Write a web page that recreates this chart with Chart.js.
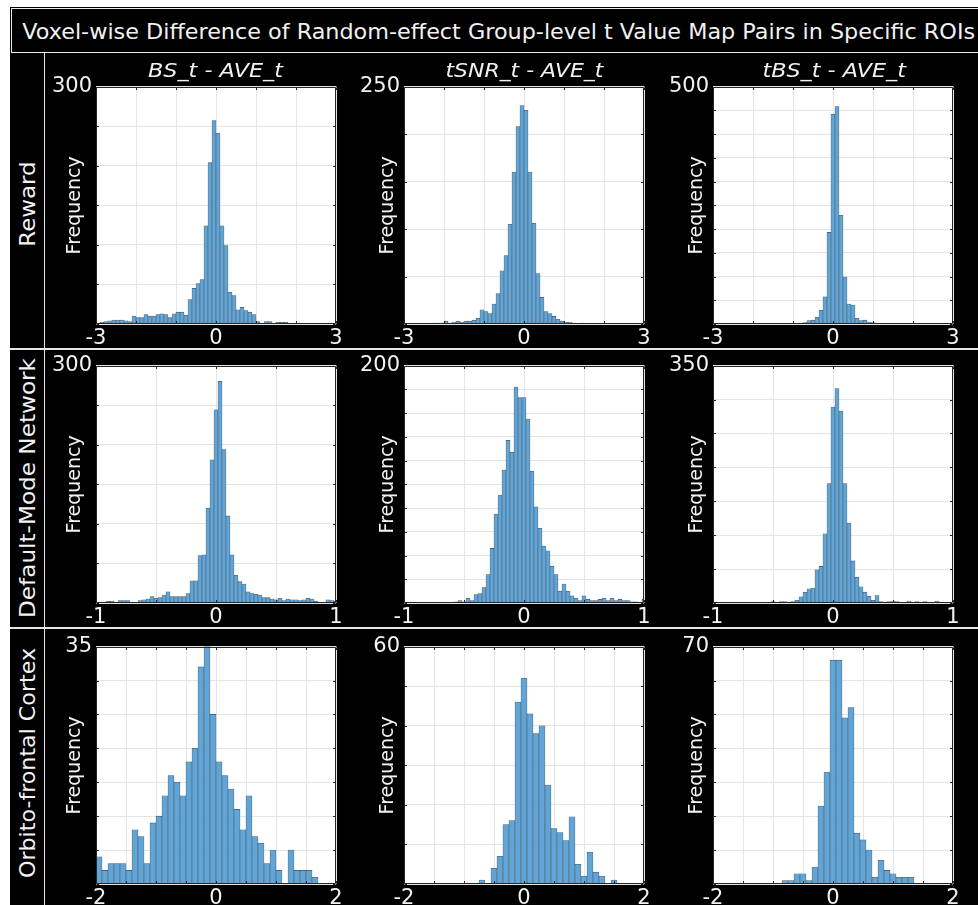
<!DOCTYPE html>
<html lang="en">
<head>
<meta charset="UTF-8">
<title>Voxel-wise Difference of Random-effect Group-level t Value Map Pairs in Specific ROIs</title>
<script src="https://cdn.jsdelivr.net/npm/chart.js"></script>
<style>
  body { margin: 0; width: 978px; height: 905px; overflow: hidden; background: #fff; position: relative; }
  #fig { position: absolute; left: 10px; top: 7px; width: 968px; height: 898px; background: #000; }
  .line { position: absolute; background: #e6e6e6; z-index: 5; }
  #titleBox { position: absolute; left: 11px; top: 8px; width: 990px; height: 45px; border: 1px solid #ececec; box-sizing: border-box; z-index: 5; }
  .txt { position: absolute; white-space: nowrap; color: #f2f2f2; z-index: 6; transform-origin: 50% 50%; }
  canvas { position: absolute; z-index: 2; }
</style>
</head>
<body>
<div id="fig"></div>
<div id="titleBox"></div>
<div class="line" style="left:44px; top:52px; width:1px; height:853px;"></div>
<div class="line" style="left:10px; top:348px; width:968px; height:2px;"></div>
<div class="line" style="left:10px; top:627px; width:968px; height:2px;"></div>

<script>
// ---- labels ----
const figTitle = 'Voxel-wise Difference of Random-effect Group-level t Value Map Pairs in Specific ROIs';
const rowNames = ['Reward', 'Default-Mode Network', 'Orbito-frontal Cortex'];
const colNames = ['BS_t - AVE_t', 'tSNR_t - AVE_t', 'tBS_t - AVE_t'];

// ---- axes (per row / per panel) ----
const xLimit = [3, 1, 2];            // symmetric x range per row
const xStep = [1, 0.5, 0.5];         // grid spacing per row
const binWidth = [0.1, 1 / 30, 0.1]; // histogram bin width per row
const yMax = [[300, 250, 500], [300, 200, 350], [35, 60, 70]];
const yStep = [[50, 50, 50], [50, 20, 50], [5, 10, 10]];
// left edge of the first bin in each panel
const binStart = [[-3, -3, -3.05], [-1 - 1 / 60, -1 - 1 / 60, -1 - 1 / 60], [-2, -2.05, -2.05]];

// ---- counts ----
const rewardBS = [1,2,3,4,5,5,5,4,3,10,8,8,12,10,10,12,13,12,8,13,15,15,11,31,45,51,56,124,204,257,
  241,124,99,40,36,18,21,17,15,12,3,1,3,3,1,2,2,2,1,0,0,0,0,0,0,1,0,0,0,0];
const rewardTSNR = [0,0,0,0,0,0,0,1,1,1,3,1,2,3,2,3,3,4,6,15,13,11,21,32,56,72,105,160,208,230,
  225,160,106,53,28,13,11,8,5,3,2,2,1,0,1,0,0,0,0,0,0,0,0,0,0,0,0,0,0,0];
const rewardTBS = [0,0,0,0,0,0,0,0,0,0,0,0,0,0,0,0,0,0,0,1,0,1,2,3,7,8,14,29,57,193,
  442,458,229,99,42,40,12,7,8,4,3,1,1,1,1,1,0,0,0,0,0,0,0,0,0,0,0,0,0,0,0];
const dmnBS = [1,1,1,2,2,1,3,3,3,0,1,3,4,5,8,6,7,10,14,8,8,8,8,12,28,28,60,61,120,181,
  244,280,194,110,61,35,27,24,14,12,11,10,7,7,5,4,6,3,5,4,4,3,4,6,5,2,1,1,4,3,2];
const dmnTSNR = [0,0,0,0,0,0,0,0,0,0,0,0,0,1,2,1,4,2,7,8,13,24,46,75,91,112,137,127,182,173,
  173,155,111,81,63,48,44,31,24,10,16,10,6,4,2,6,3,2,2,3,4,2,4,2,3,2,2,1,1,0,3];
const dmnTBS = [0,0,0,0,0,0,0,0,0,0,0,0,0,0,1,2,1,2,2,0,2,4,9,16,21,22,49,54,102,176,
  289,316,283,176,118,62,38,24,16,10,4,11,2,0,2,2,2,1,1,3,0,2,0,2,0,0,3,0,0,0,0];
const ofcBS = [4,2,3,3,3,2,8,7,3,9,10,13,16,15,13,18,20,32,35,25,
  18,16,14,11,8,13,7,6,3,5,2,0,5,2,2,2,1,0,0,0];
const ofcTSNR = [0,0,0,0,0,0,0,0,0,0,0,0,0,1,0,4,7,15,16,46,
  52,43,38,40,25,14,13,11,17,5,2,8,3,2,0,1,0,0,0,0,0];
const ofcTBS = [0,0,0,0,0,0,0,0,0,0,0,0,1,1,3,3,1,5,23,33,
  66,66,49,52,15,13,10,2,7,4,3,2,2,2,0,0,0,0,0,0,0];

const panelCounts = [
  [rewardBS, rewardTSNR, rewardTBS],
  [dmnBS, dmnTSNR, dmnTBS],
  [ofcBS, ofcTSNR, ofcTBS]
];

// ---- layout ----
const plotLeft = [96, 404, 713];
const plotTop = [84, 363, 644];
const PW = 240, PH = 240;
const AX_W = 50, PAD_T = 14, PAD_R = 14, AX_H = 22;

const textColor = '#f2f2f2';
const fontFamily = "'DejaVu Sans', sans-serif";
const barFill = 'rgb(96,165,214)';
const barEdge = 'rgba(20,30,45,0.75)';
const gridColor = '#e4e4e4';

// white axes face, then a box with inward ticks on top of the bars
const boxPlugin = {
  id: 'box',
  beforeDraw(chart) {
    const { ctx, chartArea: a } = chart;
    ctx.save();
    ctx.fillStyle = '#ffffff';
    ctx.fillRect(a.left, a.top, a.right - a.left, a.bottom - a.top);
    ctx.restore();
  },
  afterDatasetsDraw(chart) {
    const { ctx, chartArea: a, scales } = chart;
    const L = Math.round(a.left) + 0.5, R = Math.round(a.right) - 0.5;
    const T = Math.round(a.top) + 0.5, B = Math.round(a.bottom) - 0.5;
    const tl = 2.5;
    ctx.save();
    ctx.strokeStyle = '#262626';
    ctx.lineWidth = 1;
    ctx.beginPath();
    ctx.rect(L, T, R - L, B - T);
    scales.x.ticks.forEach(t => {
      const px = Math.round(scales.x.getPixelForValue(t.value)) + 0.5;
      ctx.moveTo(px, B); ctx.lineTo(px, B - tl);
      ctx.moveTo(px, T); ctx.lineTo(px, T + tl);
    });
    scales.y.ticks.forEach(t => {
      const py = Math.round(scales.y.getPixelForValue(t.value)) + 0.5;
      ctx.moveTo(L, py); ctx.lineTo(L + tl, py);
      ctx.moveTo(R, py); ctx.lineTo(R - tl, py);
    });
    ctx.stroke();
    ctx.restore();
  }
};

function near(a, b) { return Math.abs(a - b) < 1e-6; }

function drawPanel(r, c) {
  const counts = panelCounts[r][c];
  const w = binWidth[r];
  const start = binStart[r][c];
  const points = counts.map((v, i) => ({ x: start + (i + 0.5) * w, y: v }));
  const lim = xLimit[r];
  const top = yMax[r][c];

  const canvas = document.createElement('canvas');
  canvas.width = AX_W + PW + PAD_R;
  canvas.height = PAD_T + PH + AX_H;
  canvas.style.left = (plotLeft[c] - AX_W) + 'px';
  canvas.style.top = (plotTop[r] - PAD_T) + 'px';
  document.body.appendChild(canvas);

  new Chart(canvas, {
    type: 'bar',
    data: {
      datasets: [{
        data: points,
        backgroundColor: barFill,
        borderColor: barEdge,
        borderWidth: 0.6,
        borderSkipped: false,
        barPercentage: 1,
        categoryPercentage: 1,
        clip: 0
      }]
    },
    options: {
      responsive: false,
      animation: false,
      events: [],
      layout: { padding: { top: PAD_T, right: PAD_R, left: 0, bottom: 0 } },
      plugins: { legend: { display: false }, tooltip: { enabled: false } },
      scales: {
        x: {
          type: 'linear',
          min: -lim,
          max: lim,
          offset: false,
          grid: { color: gridColor, offset: false, drawTicks: false },
          border: { display: false },
          ticks: {
            stepSize: xStep[r],
            autoSkip: false,
            maxRotation: 0,
            padding: 2,
            color: textColor,
            font: { family: fontFamily, size: 21 },
            callback: v => (near(v, -lim) || near(v, 0) || near(v, lim)) ? String(Math.round(v)) : ''
          },
          afterFit: s => { s.height = AX_H; }
        },
        y: {
          min: 0,
          max: top,
          grid: { color: gridColor, drawTicks: false },
          border: { display: false },
          ticks: {
            stepSize: yStep[r][c],
            autoSkip: false,
            padding: 4,
            color: textColor,
            font: { family: fontFamily, size: 21 },
            callback: v => near(v, top) ? String(v) : ''
          },
          title: {
            display: true,
            text: 'Frequency',
            color: textColor,
            font: { family: fontFamily, size: 19 },
            padding: { top: c === 0 ? 18 : 23, bottom: 0 }
          },
          afterFit: s => { s.width = AX_W; }
        }
      }
    },
    plugins: [boxPlugin]
  });
}

// text placed by centre and stretched to the measured length of the original
function placeText(text, cx, cy, len, font, rotate) {
  const el = document.createElement('div');
  el.className = 'txt';
  el.textContent = text;
  el.style.font = font;
  document.body.appendChild(el);
  const w = el.offsetWidth, h = el.offsetHeight;
  el.style.left = (cx - w / 2) + 'px';
  el.style.top = (cy - h / 2) + 'px';
  el.style.transform = (rotate ? 'rotate(-90deg) ' : '') + 'scaleX(' + (len / w).toFixed(3) + ')';
}

placeText(figTitle, 498.5, 32, 953, "21px " + fontFamily, false);

const rowCentres = [204, 488, 763];
const rowLengths = [85, 260, 230];
rowNames.forEach((name, i) => placeText(name, 27.5, rowCentres[i], rowLengths[i], "21px " + fontFamily, true));

const colCentres = [215.5, 524, 833.5];
const colLengths = [135, 158, 143];
colNames.forEach((name, i) => placeText(name, colCentres[i], 70, colLengths[i], "italic 19px " + fontFamily, false));

for (let r = 0; r < 3; r++) {
  for (let c = 0; c < 3; c++) drawPanel(r, c);
}
</script>
</body>
</html>
